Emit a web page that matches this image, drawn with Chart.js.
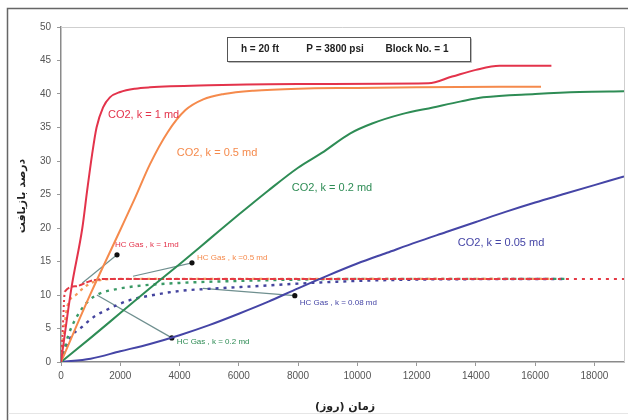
<!DOCTYPE html>
<html><head><meta charset="utf-8">
<script src="https://cdn.jsdelivr.net/npm/chart.js@4.4.1/dist/chart.umd.min.js"></script>
<style>html,body{margin:0;padding:0;background:#fff;}#wrap{width:628px;height:420px;position:relative;}</style>
</head><body><div id="wrap"><canvas id="c" width="628" height="420"></canvas></div>
<script>
// ---- data (days, recovery %) ----
const co2K1X = [0, 350, 720, 880, 1050, 1200, 1420, 1650, 2000, 2500, 3000, 5000, 8000, 12400, 13200, 14000, 14800, 16550];
const co2K1Y = [0, 11, 20, 25.5, 31, 35, 38, 39.5, 40.3, 40.8, 41, 41.3, 41.5, 41.6, 42.6, 43.6, 44.2, 44.2];
const co2K05X = [0, 1000, 2000, 2500, 3000, 3600, 4200, 4800, 5500, 6500, 8000, 10000, 12000, 16200];
const co2K05Y = [0, 10.2, 19.7, 24.5, 29.5, 34.3, 37.6, 39.2, 40, 40.5, 40.8, 40.9, 41, 41.1];
const co2K02X = [0, 1000, 2000, 3000, 4000, 5000, 6000, 7000, 8000, 8800, 9750, 10500, 11500, 12550, 13500, 14250, 16000, 17500, 19000];
const co2K02Y = [0, 3.6, 7.3, 11, 14.6, 18.3, 22, 25.6, 29, 31.2, 34.1, 35.6, 37, 38, 38.9, 39.5, 40, 40.3, 40.4];
const co2K005X = [0, 1000, 2000, 3000, 4000, 5000, 6000, 7000, 8000, 9000, 10000, 11000, 12000, 13000, 14000, 15000, 16000, 17000, 18000, 19000];
const co2K005Y = [0, 0.5, 1.6, 2.7, 4, 5.5, 7.2, 9, 11, 12.9, 14.7, 16.3, 17.9, 19.4, 20.9, 22.4, 23.8, 25.1, 26.4, 27.7];
const hcK1X = [0, 60, 130, 500, 1000, 1500, 16500, 19000];
const hcK1Y = [0, 5, 10.5, 11.3, 12.1, 12.4, 12.4, 12.4];
const hcK05X = [0, 200, 500, 900, 1300, 2000, 16500];
const hcK05Y = [0, 8, 10, 11.5, 12.2, 12.4, 12.4];
const hcK02X = [0, 250, 500, 900, 1300, 1900, 2700, 4000, 6000, 8000, 10000, 17000];
const hcK02Y = [0, 4, 6.5, 9, 10.2, 10.9, 11.4, 11.8, 12.1, 12.3, 12.4, 12.4];
const hcK005X = [0, 300, 700, 1100, 1550, 2300, 3000, 4000, 5300, 6500, 8000, 10000, 12000, 17000];
const hcK005Y = [0, 3.5, 5.2, 6.7, 7.8, 9.2, 9.9, 10.6, 11, 11.3, 11.7, 12.1, 12.3, 12.4];

const xTicks = [0, 2000, 4000, 6000, 8000, 10000, 12000, 14000, 16000, 18000];
const yTicks = [0, 5, 10, 15, 20, 25, 30, 35, 40, 45, 50];

// curve labels
const labelTexts = ["CO2, k = 1 md", "CO2, k = 0.5 md", "CO2, k = 0.2 md", "CO2, k = 0.05 md",
  "HC Gas , k = 1md", "HC Gas , k =0.5 md", "HC Gas , k = 0.08 md", "HC Gas , k = 0.2 md"];
const labelX = [1585, 3910, 7790, 13390, 1820, 4590, 8060, 3910];
const labelY = [36.9, 31.2, 26, 17.8, 17.5, 15.5, 8.8, 3.0];
// pointer callouts: [line end on curve, dot]
const pointerFromX = [720, 2430, 4790, 1210];
const pointerFromY = [11.8, 12.8, 11.0, 10.0];
const pointerDotX = [1890, 4420, 7890, 3740];
const pointerDotY = [16.0, 14.8, 9.9, 3.6];

const boxTexts = ["h = 20 ft", "P = 3800 psi", "Block No. = 1"];
const xTitle = "زمان (روز)";
const yTitle = "درصد بازیافت";

const C_RED = '#e3334b', C_ORG = '#f58a4c', C_GRN = '#2e8c55', C_BLU = '#4545a6';
const labelColors = [C_RED, C_ORG, C_GRN, C_BLU, C_RED, C_ORG, C_BLU, C_GRN];
const labelFonts = [11, 11, 11, 11, 8, 8, 8, 8];

const pts = (xs, ys) => xs.map((x, i) => ({x, y: ys[i]}));

function curve(xs, ys, color, dash, w) {
  return {data: pts(xs, ys), borderColor: color, backgroundColor: color, borderWidth: w || 2,
    borderDash: dash || [], pointRadius: 0, showLine: true, cubicInterpolationMode: 'monotone', fill: false};
}

const datasets = [
  curve(co2K1X, co2K1Y, C_RED),
  curve(co2K05X, co2K05Y, C_ORG),
  curve(co2K02X, co2K02Y, C_GRN),
  curve(co2K005X, co2K005Y, C_BLU),
  Object.assign(curve(hcK1X, hcK1Y, '#e43a45', [6, 2]), {segment: {borderDash: ctx => ctx.p0.parsed.x >= 16500 ? [3, 5] : (ctx.p0.parsed.x < 130 ? [2, 3] : [6, 2])}}),
  curve(hcK05X, hcK05Y, '#f59a5a', [3, 4], 2.2),
  curve(hcK02X, hcK02Y, '#3a9a66', [3, 5], 2.4),
  curve(hcK005X, hcK005Y, '#44449e', [3, 5], 2.4),
];
for (let i = 0; i < pointerDotX.length; i++) {
  datasets.push({data: [{x: pointerFromX[i], y: pointerFromY[i]}, {x: pointerDotX[i], y: pointerDotY[i]}],
    showLine: true, borderColor: '#6f8f8f', borderWidth: 1.2, pointRadius: [0, 2.6],
    pointBackgroundColor: '#111', pointBorderWidth: 0, tension: 0});
}

const decor = {
  id: 'decor',
  beforeDraw(chart) {
    const c = chart.ctx;
    c.save();
    c.fillStyle = '#fff';
    c.fillRect(0, 0, chart.width, chart.height);
    c.restore();
  },
  afterDraw(chart) {
    const c = chart.ctx, a = chart.chartArea, xs = chart.scales.x, ys = chart.scales.y;
    c.save();
    // plot area top/right border
    c.strokeStyle = '#cfcfcf'; c.lineWidth = 1;
    c.beginPath(); c.moveTo(a.left, a.top + 0.5); c.lineTo(a.right + 0.5, a.top + 0.5); c.lineTo(a.right + 0.5, a.bottom); c.stroke();
    // outer frame
    c.strokeStyle = '#666'; c.lineWidth = 1.5;
    c.beginPath(); c.moveTo(7.5, chart.height); c.lineTo(7.5, 8.5); c.lineTo(chart.width, 8.5); c.stroke();
    c.strokeStyle = '#e6e6e6'; c.lineWidth = 1;
    c.beginPath(); c.moveTo(8, 413.5); c.lineTo(chart.width, 413.5); c.stroke();
    // curve labels
    c.textBaseline = 'middle'; c.textAlign = 'left';
    for (let i = 0; i < labelTexts.length; i++) {
      c.font = labelFonts[i] + 'px "Liberation Sans", Arial, sans-serif';
      c.fillStyle = labelColors[i];
      c.fillText(labelTexts[i], xs.getPixelForValue(labelX[i]), ys.getPixelForValue(labelY[i]));
    }
    // info box
    c.fillStyle = '#fff'; c.fillRect(227, 37, 243, 24);
    c.strokeStyle = '#555'; c.lineWidth = 1;
    c.strokeRect(227.5, 37.5, 243, 24);
    c.strokeStyle = '#bbb';
    c.beginPath(); c.moveTo(228.5, 62.5); c.lineTo(471.5, 62.5); c.lineTo(471.5, 38.5); c.stroke();
    c.fillStyle = '#222'; c.font = 'bold 10px "Liberation Sans", Arial, sans-serif'; c.textAlign = 'center';
    const bc = [260, 335, 417];
    boxTexts.forEach((t, i) => c.fillText(t, bc[i], 49.5));
    // axis titles
    c.fillStyle = '#222'; c.font = 'bold 11px "DejaVu Sans", sans-serif';
    c.fillText(xTitle, 345, 407);
    c.translate(22, 196); c.rotate(-Math.PI / 2);
    c.fillText(yTitle, 0, 0);
    c.restore();
  }
};

new Chart(document.getElementById('c'), {
  type: 'scatter',
  data: {datasets},
  options: {
    responsive: false, animation: false, events: [],
    layout: {padding: {left: 0, right: 3, top: 27, bottom: 0}},
    plugins: {legend: {display: false}, tooltip: {enabled: false}},
    scales: {
      x: {type: 'linear', min: 0, max: 19000,
        afterBuildTicks: s => { s.ticks = xTicks.map(v => ({value: v})); },
        afterFit: s => { s.height = 58; },
        grid: {drawOnChartArea: false, drawTicks: true, tickLength: 4, color: '#999'},
        border: {display: true, color: '#8a8a8a', width: 1.5},
        ticks: {color: '#555', font: {size: 10, family: '"Liberation Sans", Arial, sans-serif'}, padding: 4, maxRotation: 0, callback: v => String(v)}},
      y: {type: 'linear', min: 0, max: 50,
        afterBuildTicks: s => { s.ticks = yTicks.map(v => ({value: v})); },
        afterFit: s => { s.width = 61; },
        grid: {drawOnChartArea: false, drawTicks: true, tickLength: 4, color: '#999'},
        border: {display: true, color: '#8a8a8a', width: 1.5},
        ticks: {color: '#555', font: {size: 10, family: '"Liberation Sans", Arial, sans-serif'}, padding: 6, callback: v => String(v)}}
    }
  },
  plugins: [decor]
});
</script>
</body></html>
